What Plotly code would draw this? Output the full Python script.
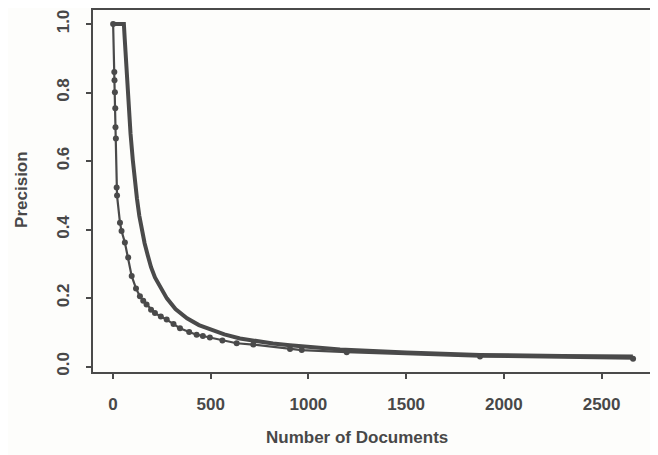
import plotly.graph_objects as go

# Theoretical (smooth, thick) curve: number of documents vs precision
ideal_docs = [1, 56, 60, 66, 72, 80, 90, 102, 112, 123, 135, 148, 162, 178, 195, 215, 240, 276,
              320, 379, 440, 496, 570, 650, 735, 819, 905, 993, 1162, 1500, 1878, 2300, 2660]
ideal_prec = [1.0, 1.0, 0.96, 0.90, 0.845, 0.77, 0.68, 0.601, 0.54, 0.49, 0.44, 0.40, 0.36,
              0.325, 0.29, 0.26, 0.235, 0.199, 0.168, 0.141, 0.121, 0.108, 0.094, 0.082,
              0.073, 0.067, 0.062, 0.057, 0.050, 0.041, 0.034, 0.031, 0.029]

# Observed curve (thin line with dots)
obs_docs = [1, 7, 8, 10, 12, 13, 15, 19, 21, 36, 44, 61, 78, 96, 118, 138, 155, 172, 195, 215,
            245, 275, 310, 343, 390, 428, 460, 496, 560, 633, 718, 906, 966, 1196, 1878, 2661]
obs_prec = [1.0, 0.860, 0.836, 0.801, 0.754, 0.699, 0.666, 0.523, 0.499, 0.420, 0.396, 0.362,
            0.318, 0.264, 0.228, 0.205, 0.192, 0.181, 0.166, 0.156, 0.146, 0.137, 0.124, 0.112,
            0.101, 0.093, 0.089, 0.085, 0.076, 0.068, 0.064, 0.051, 0.048, 0.042, 0.029, 0.023]

x_ticks = [0, 500, 1000, 1500, 2000, 2500]
y_ticks = [0.0, 0.2, 0.4, 0.6, 0.8, 1.0]
y_tick_text = ["0.0", "0.2", "0.4", "0.6", "0.8", "1.0"]

ink = "#4a4a4a"
font = dict(family="Liberation Sans, Arial, sans-serif", size=17, color="#484848",
            weight="bold")

fig = go.Figure()
fig.add_trace(go.Scatter(x=ideal_docs, y=ideal_prec, mode="lines",
                         line=dict(color=ink, width=4), showlegend=False))
fig.add_trace(go.Scatter(x=obs_docs, y=obs_prec, mode="lines+markers",
                         line=dict(color=ink, width=2.2),
                         marker=dict(color=ink, size=6), showlegend=False))

fig.update_layout(
    width=650, height=447,
    margin=dict(l=85, r=5, t=2, b=83),
    paper_bgcolor="#fdfdfb", plot_bgcolor="#fdfdfb",
    font=font,
    xaxis=dict(range=[-102, 2763], tickvals=x_ticks, ticks="outside", ticklen=5,
               tickwidth=2, tickcolor=ink, showline=True, linecolor=ink, linewidth=2,
               mirror=True, showgrid=False, zeroline=False, ticklabelstandoff=11,
               tickfont=font, automargin=False),
    yaxis=dict(range=[-0.016, 1.041], tickvals=y_ticks, ticktext=y_tick_text, tickangle=-90,
               ticks="outside", ticklen=5, tickwidth=2, tickcolor=ink, showline=True,
               linecolor=ink, linewidth=2, mirror=True, showgrid=False, zeroline=False,
               ticklabelstandoff=10, tickfont=font, automargin=False),
    annotations=[
        dict(text="Number of Documents", xref="paper", yref="paper", x=0.471, y=0,
             xanchor="center", yanchor="middle", yshift=-65, showarrow=False, font=font),
        dict(text="Precision", xref="paper", yref="paper", x=0, y=0.503, textangle=-90,
             xanchor="center", yanchor="middle", xshift=-71, showarrow=False, font=font),
    ],
)

fig.write_html("out.html")
